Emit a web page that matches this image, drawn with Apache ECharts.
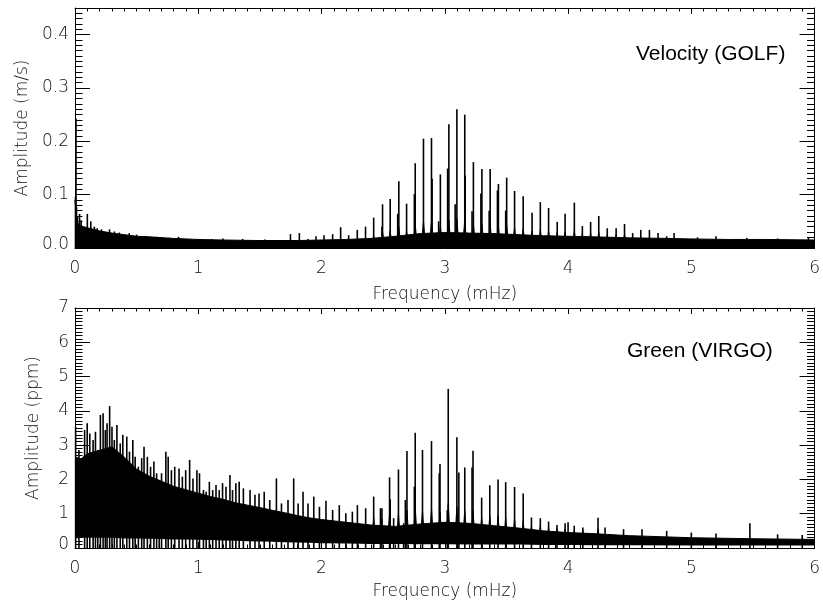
<!DOCTYPE html>
<html><head><meta charset="utf-8">
<script src="https://cdn.jsdelivr.net/npm/echarts@6/dist/echarts.min.js"></script>
<style>html,body{margin:0;padding:0;background:#fff}#c{width:823px;height:606px}</style>
</head><body><div id="c"></div>
<script>
// ---------- GOLF (velocity) panel ----------
const golfEnvFreq = [0, 0.01, 0.02, 0.04, 0.07, 0.1, 0.15, 0.2, 0.3, 0.4, 0.5, 0.6, 0.8, 1.0, 1.2, 1.5, 1.8, 2.0, 2.2, 2.4, 2.6, 2.8, 3.0, 3.2, 3.4, 3.6, 3.8, 4.0, 4.2, 4.5, 4.8, 5.0, 5.3, 5.6, 6.0];
const golfEnvAmp  = [0.09, 0.06, 0.048, 0.042, 0.04, 0.038, 0.035, 0.032, 0.028, 0.025, 0.022, 0.021, 0.018, 0.016, 0.015, 0.014, 0.014, 0.015, 0.016, 0.018, 0.022, 0.027, 0.029, 0.028, 0.027, 0.025, 0.023, 0.022, 0.021, 0.019, 0.018, 0.017, 0.016, 0.016, 0.015];
const golfModeFreq = [1.748, 1.82, 1.89, 1.955, 2.02, 2.09, 2.155, 2.22, 2.29, 2.357, 2.423, 2.495, 2.557, 2.627, 2.690, 2.760, 2.827, 2.892, 2.964, 3.033, 3.098, 3.162, 3.232, 3.301, 3.368, 3.435, 3.502, 3.566, 3.636, 3.708, 3.775, 3.842, 3.912, 3.976, 4.051, 4.116, 4.183, 4.249, 4.318, 4.390, 4.458, 4.524, 4.590, 4.660, 4.730, 4.800, 4.860];
const golfModeAmp  = [0.026, 0.028, 0.017, 0.022, 0.024, 0.026, 0.039, 0.024, 0.034, 0.040, 0.057, 0.082, 0.092, 0.125, 0.083, 0.159, 0.205, 0.206, 0.138, 0.232, 0.260, 0.250, 0.161, 0.148, 0.148, 0.120, 0.132, 0.107, 0.097, 0.066, 0.086, 0.075, 0.049, 0.064, 0.085, 0.041, 0.049, 0.060, 0.037, 0.037, 0.045, 0.028, 0.034, 0.034, 0.028, 0.022, 0.028];
const golfBaseFreq = [2.423, 2.495, 2.557, 2.627, 2.690, 2.760, 2.827, 2.892, 2.964, 3.033, 3.098, 3.162, 3.232, 3.301, 3.368, 3.435, 3.502, 3.566, 3.636, 3.708, 3.775, 3.842, 3.912, 3.976, 4.051, 4.116, 4.183, 4.249, 4.318, 4.390, 4.458];
const golfBaseAmp  = [0.022, 0.03, 0.032, 0.04, 0.032, 0.045, 0.05, 0.05, 0.042, 0.052, 0.055, 0.052, 0.045, 0.044, 0.044, 0.04, 0.042, 0.038, 0.036, 0.032, 0.034, 0.032, 0.03, 0.03, 0.032, 0.027, 0.028, 0.03, 0.025, 0.025, 0.026];
const golfSecFreq = [2.49, 2.618, 2.753, 2.897, 2.95, 3.023, 3.084, 3.165, 3.221, 3.293, 3.36, 3.427, 3.494];
const golfSecAmp  = [0.040, 0.064, 0.101, 0.130, 0.050, 0.149, 0.082, 0.136, 0.069, 0.102, 0.070, 0.108, 0.070];
const golfNoiseFreq = [0.004, 0.008, 0.012, 0.02, 0.037, 0.05, 0.1, 0.128, 0.157, 0.18, 0.215, 0.28, 0.32, 0.36, 0.44, 0.5, 0.575, 0.66, 0.76, 0.84, 1.0, 1.11, 1.2, 1.36, 1.54, 5.05, 5.2, 5.45, 5.7, 5.95];
const golfNoiseAmp  = [0.096, 0.243, 0.077, 0.06, 0.064, 0.052, 0.064, 0.05, 0.04, 0.037, 0.035, 0.035, 0.031, 0.029, 0.028, 0.025, 0.021, 0.021, 0.019, 0.021, 0.017, 0.017, 0.018, 0.017, 0.016, 0.02, 0.022, 0.019, 0.018, 0.02];

// ---------- VIRGO (green) panel ----------
const virgoEnvFreq = [0, 0.05, 0.1, 0.2, 0.3, 0.4, 0.5, 0.6, 0.7, 0.8, 0.9, 1.0, 1.1, 1.2, 1.3, 1.4, 1.5, 1.6, 1.7, 1.8, 1.9, 2.0, 2.2, 2.4, 2.6, 2.8, 3.0, 3.2, 3.4, 3.6, 3.8, 4.0, 4.2, 4.5, 5.0, 5.5, 6.0];
const virgoEnvHigh = [2.65, 2.6, 2.75, 2.85, 2.95, 2.65, 2.3, 2.1, 1.95, 1.8, 1.7, 1.6, 1.5, 1.42, 1.32, 1.25, 1.18, 1.1, 1.03, 0.95, 0.88, 0.83, 0.75, 0.67, 0.63, 0.7, 0.75, 0.72, 0.65, 0.58, 0.5, 0.45, 0.42, 0.36, 0.3, 0.27, 0.25];
const virgoEnvLow  = [0.28, 0.3, 0.3, 0.3, 0.3, 0.28, 0.28, 0.27, 0.26, 0.25, 0.25, 0.24, 0.23, 0.22, 0.21, 0.2, 0.19, 0.18, 0.17, 0.16, 0.15, 0.14, 0.13, 0.12, 0.12, 0.11, 0.11, 0.1, 0.1, 0.1, 0.09, 0.09, 0.08, 0.08, 0.07, 0.07, 0.07];
const virgoModeFreq = [2.423, 2.49, 2.552, 2.624, 2.693, 2.760, 2.819, 2.892, 2.961, 3.028, 3.098, 3.162, 3.229, 3.299, 3.365, 3.432, 3.494, 3.566, 3.636, 3.703, 3.775, 3.842, 3.910, 3.976, 4.05, 4.12, 4.243];
const virgoModeAmp  = [1.50, 1.16, 2.06, 2.29, 2.83, 3.36, 2.86, 3.12, 2.45, 4.64, 3.23, 2.35, 2.84, 1.47, 1.83, 2.00, 1.92, 1.78, 1.59, 0.89, 0.87, 0.77, 0.67, 0.72, 0.65, 0.60, 0.88];
const virgoBaseAmp  = [0.9, 0.85, 1.0, 1.0, 1.1, 1.2, 1.1, 1.15, 1.05, 1.3, 1.2, 1.1, 1.1, 0.9, 0.95, 0.95, 0.9, 0.85, 0.8, 0.65, 0.65, 0.6, 0.55, 0.55, 0.5, 0.5, 0.55];
const virgoSecFreq = [2.557, 2.68, 2.753, 2.955, 3.02, 3.114, 3.221];
const virgoSecAmp  = [1.42, 1.40, 1.79, 2.18, 1.10, 2.20, 2.35];
const virgoNoiseFreq = [0.005, 0.032, 0.078, 0.099, 0.12, 0.147, 0.166, 0.185, 0.206, 0.228, 0.246, 0.26, 0.281, 0.30, 0.319, 0.34, 0.367, 0.388, 0.42, 0.442, 0.469, 0.488, 0.514, 0.541, 0.56, 0.587, 0.613, 0.64, 0.662, 0.683, 0.702, 0.737, 0.756, 0.782, 0.809, 0.844, 0.871, 0.898, 0.93, 0.957, 0.989, 1.01, 1.042, 1.064, 1.09, 1.117, 1.144, 1.17, 1.197, 1.225, 1.257, 1.278, 1.305, 1.332, 1.366, 1.42, 1.46, 1.493, 1.535, 1.58, 1.634, 1.675, 1.728, 1.774, 1.81, 1.85, 1.89, 1.937, 1.983, 2.036, 2.09, 2.144, 2.197, 2.25, 2.291, 2.358, 2.478, 2.585, 2.666, 4.0, 4.3, 4.45, 4.6, 4.8, 5.0, 5.2, 5.475, 5.7, 5.9];
const virgoNoiseAmp  = [3.54, 2.86, 3.44, 3.64, 3.34, 3.15, 3.39, 2.86, 3.88, 3.93, 3.44, 3.64, 4.14, 3.54, 3.15, 3.59, 3.05, 3.3, 3.25, 2.81, 3.15, 2.66, 2.37, 2.62, 2.95, 2.66, 2.37, 2.52, 2.18, 1.89, 2.18, 2.81, 2.66, 2.27, 2.37, 2.32, 2.08, 2.27, 2.57, 2.03, 2.27, 2.18, 1.69, 1.64, 1.93, 1.69, 1.84, 1.69, 1.89, 1.79, 2.13, 1.69, 1.89, 1.93, 1.74, 1.69, 1.55, 1.59, 1.64, 1.4, 2.03, 1.3, 1.4, 2.03, 1.3, 1.64, 1.3, 1.5, 1.2, 1.38, 1.11, 1.25, 1.01, 1.06, 1.25, 1.16, 1.16, 0.87, 0.72, 0.75, 0.6, 0.55, 0.55, 0.5, 0.45, 0.42, 0.72, 0.4, 0.38];

// ---------- axes / texts ----------
const freqRange = [0, 6];
const golfRange = [0, 0.45];
const virgoRange = [0, 7];
const xTitle = 'Frequency (mHz)';
const golfYTitle = 'Amplitude (m/s)';
const virgoYTitle = 'Amplitude (ppm)';
const golfLabel = 'Velocity (GOLF)';
const virgoLabel = 'Green (VIRGO)';

const zip = (a, b) => a.map((v, i) => [v, b[i]]);
// wedge-shaped peak bases built from peak centre frequencies and base heights
const wedges = (f, a, hw) => f.flatMap((v, i) => [[v - hw, 0], [v, a[i]], [v + hw, 0]]);
const FONT = '"DejaVu Sans", "Noto Sans", sans-serif';
const TXT = '#111';
const FW = 200;

function xAxis(grid, pos, withLabels, nameGap) {
  return {
    type: 'value', gridIndex: grid, position: pos, min: freqRange[0], max: freqRange[1], interval: 1, z: 10,
    axisLine: { show: true, onZero: false, lineStyle: { color: '#000', width: 1 } },
    axisTick: { show: true, inside: true, length: 6, lineStyle: { color: '#000' } },
    minorTick: { show: true, splitNumber: 10, length: 3.5, lineStyle: { color: '#000' } },
    splitLine: { show: false }, minorSplitLine: { show: false },
    axisLabel: { show: withLabels, margin: 12, fontSize: 17, fontFamily: FONT, fontWeight: FW, color: TXT },
    name: withLabels ? xTitle : '', nameLocation: 'middle', nameGap: nameGap,
    nameTextStyle: { fontSize: 17, fontFamily: FONT, fontWeight: FW, color: TXT }
  };
}
function yAxis(grid, pos, range, interval, tickLen, withLabels, fmt, title, nameGap, minor, showMax) {
  const ax = {
    type: 'value', gridIndex: grid, position: pos, min: range[0], max: range[1], interval: interval, z: 10,
    axisLine: { show: tickLen > 10, onZero: false, lineStyle: { color: '#000', width: 1 } },
    axisTick: { show: true, inside: true, length: tickLen, lineStyle: { color: '#000' } },
    splitLine: { show: false },
    axisLabel: {
      show: withLabels, margin: 6, fontSize: 17, fontFamily: FONT, fontWeight: FW, color: TXT, showMaxLabel: showMax,
      formatter: v => (v === 0 ? '{z|' + fmt(v) + '}' : fmt(v)),
      rich: { z: { fontSize: 17, fontFamily: FONT, fontWeight: FW, color: TXT, padding: [0, 0, 7, 0] } }
    },
    name: withLabels ? title : '', nameLocation: 'middle', nameGap: nameGap,
    nameTextStyle: { fontSize: 17, fontFamily: FONT, fontWeight: FW, color: TXT }
  };
  if (minor) ax.minorTick = { show: true, splitNumber: 10, length: tickLen / 2, lineStyle: { color: '#000' } };
  return ax;
}

const golfBars = zip(golfModeFreq, golfModeAmp).concat(zip(golfSecFreq, golfSecAmp), zip(golfNoiseFreq, golfNoiseAmp));
const virgoBars = zip(virgoModeFreq, virgoModeAmp).concat(zip(virgoSecFreq, virgoSecAmp), zip(virgoNoiseFreq, virgoNoiseAmp));

const areaLine = (xi, yi, data, z, color) => ({
  type: 'line', xAxisIndex: xi, yAxisIndex: yi, data: data, showSymbol: false, symbol: 'none',
  lineStyle: { color: color, width: color === '#fff' ? 0 : 1 }, areaStyle: { color: color, opacity: 1 }, z: z
});

const option = {
  animation: false,
  backgroundColor: '#fff',
  grid: [
    { left: 75, right: 2, top: 8, height: 240 },
    { left: 75, right: 2, top: 308, height: 240 }
  ],
  xAxis: [
    xAxis(0, 'bottom', true, 38),
    xAxis(0, 'top', false, 0),
    xAxis(1, 'bottom', true, 35),
    xAxis(1, 'top', false, 0)
  ],
  yAxis: [
    yAxis(0, 'left', golfRange, 0.1, 15, true, v => v.toFixed(1), golfYTitle, 39, false, false),
    yAxis(0, 'right', golfRange, 0.1, 15, false, v => v.toFixed(1), '', 0, false, false),
    yAxis(0, 'left', golfRange, 0.01, 7.5, false, v => '', '', 0, false, false),
    yAxis(0, 'right', golfRange, 0.01, 7.5, false, v => '', '', 0, false, false),
    yAxis(1, 'left', virgoRange, 1, 15, true, v => String(v), virgoYTitle, 33, true, true),
    yAxis(1, 'right', virgoRange, 1, 15, false, v => String(v), '', 0, true, true)
  ],
  graphic: [
    { type: 'text', left: 636, top: 44, style: { text: golfLabel, font: '21px "Liberation Sans", Arial, sans-serif', fill: '#000' } },
    { type: 'text', left: 627, top: 341, style: { text: virgoLabel, font: '21px "Liberation Sans", Arial, sans-serif', fill: '#000' } }
  ],
  series: [
    areaLine(0, 0, zip(golfEnvFreq, golfEnvAmp), 2, '#000'),
    areaLine(0, 0, wedges(golfBaseFreq, golfBaseAmp, 0.018), 2, '#000'),
    { type: 'bar', xAxisIndex: 0, yAxisIndex: 0, data: golfBars, barWidth: 1.6, itemStyle: { color: '#000' }, z: 4 },
    areaLine(2, 4, zip(virgoEnvFreq, virgoEnvHigh), 2, '#000'),
    areaLine(2, 4, wedges(virgoModeFreq, virgoBaseAmp, 0.02), 2, '#000'),
    areaLine(2, 4, zip(virgoEnvFreq, virgoEnvLow), 3, '#fff'),
    { type: 'bar', xAxisIndex: 2, yAxisIndex: 4, data: virgoBars, barWidth: 1.6, itemStyle: { color: '#000' }, z: 4 }
  ]
};
const chart = echarts.init(document.getElementById('c'), null, { renderer: 'canvas' });
chart.setOption(option);
</script></body></html>
